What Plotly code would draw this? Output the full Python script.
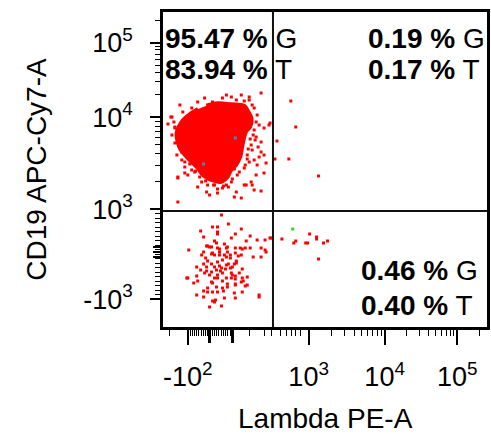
import numpy as np
import plotly.graph_objects as go

# ---------------- data (display channels: x 0-328, y 0-315) ----------------
# Quadrant gate positions (display channels)
GATE_X = 112
GATE_Y = 116

# Dense core of the CD19+ population (outline of the solid density region)
core_x = [44.7, 56.3, 69.7, 83, 87, 90.3, 89, 84.7, 82.3, 80.3, 79, 74.7, 69.7, 66.3,
          59.7, 49.7, 41.3, 36.3, 31.3, 24.7, 19, 15.7, 14.7, 17, 21.3, 28, 36.3]
core_y = [221.3, 223.7, 222.7, 221.3, 215.3, 208.7, 200.3, 195.3, 187, 177, 170.3, 162, 157, 150.3,
          145.3, 147, 152, 158.7, 163.7, 170.3, 177, 185.3, 193.7, 200.3, 207, 212.7, 218]

# Scattered events, upper-left quadrant
ul_x = [100, 70, 75, 83, 88, 36, 51, 61, 18, 9, 6, 93, 96, 98, 103, 108, 13, 16, 95, 100,
        91, 98, 103, 105, 15, 20, 23, 26, 16, 103, 95, 85, 91, 100, 93, 36, 45, 56, 61, 73,
        80, 16, 16, 23, 109, 12, 10, 33, 40, 53, 65, 70, 76, 83, 88, 86, 90, 92, 95, 91,
        80, 65, 43, 30, 21, 13, 23, 30, 46, 58, 48, 75, 90, 83, 96, 100, 93, 10, 13,
        44, 52, 62, 71, 78, 84, 87, 89, 93, 86, 38, 34, 28, 20, 56, 67, 73, 94, 97, 88]
ul_y = [234, 230, 227, 226, 227, 225, 225, 229, 222, 210, 203, 219, 212, 202, 199, 202, 199, 194, 190, 185,
        177, 170, 172, 164, 172, 167, 160, 152, 149, 154, 152, 142, 142, 136, 137, 140, 135, 134, 139, 130,
        129, 125, 150, 154, 204, 205, 192, 155, 145, 142, 142, 145, 152, 159, 165, 172, 182, 192, 205, 222,
        232, 232, 229, 219, 215, 184, 165, 157, 142, 147, 132, 135, 145, 142, 162, 175, 167, 210, 200,
        146, 142, 141, 148, 155, 162, 178, 188, 197, 168, 150, 156, 163, 175, 138, 140, 158, 187, 180, 230]

# Scattered events, upper-right quadrant
ur_x = [130, 135, 116, 114, 128, 158]
ur_y = [226, 200, 186, 168, 168, 151]

# Events, lower-left quadrant
ll_x = [60, 67, 51, 56, 39, 56, 56, 80, 42, 74, 89, 70, 53, 55, 85, 96, 104, 109, 110,
        45, 46, 48, 50, 56, 58, 58, 63, 65, 66, 27, 74, 79, 81, 84, 89, 42, 51, 100, 104, 105,
        66, 69, 40, 44, 50, 53, 58, 63, 65, 74, 77, 80, 92, 100, 69, 75, 75, 46, 56, 61,
        35, 42, 45, 50, 53, 58, 60, 65, 67, 69, 71, 73, 81, 39, 45, 50, 55, 59, 64,
        43, 48, 56, 61, 70, 71, 74, 78, 26, 35, 53, 56, 65, 70, 74, 81, 86,
        36, 32, 50, 51, 61, 66, 74, 80, 82, 46, 55, 61, 66, 74, 84, 86,
        42, 51, 56, 62, 73, 81, 35, 42, 46, 63, 74, 98, 98, 51, 54, 48, 60, 53, 25]
ll_y = [112, 103, 100, 100, 96, 95, 93, 98, 90, 93, 91, 89, 86, 84, 86, 87, 87, 89, 89,
        81, 81, 80, 80, 79, 78, 75, 83, 79, 80, 77, 79, 79, 78, 79, 79, 75, 74, 79, 77, 75,
        75, 72, 72, 69, 73, 72, 72, 72, 70, 74, 71, 72, 70, 70, 69, 66, 64, 66, 65, 67,
        60, 63, 60, 63, 60, 61, 59, 62, 63, 59, 60, 63, 58, 57, 56, 55, 57, 56, 58,
        54, 52, 52, 54, 54, 52, 51, 54, 49, 51, 49, 49, 49, 49, 48, 49, 50,
        46, 44, 45, 44, 46, 43, 43, 45, 46, 39, 40, 39, 40, 42, 41, 42,
        36, 35, 35, 36, 34, 35, 32, 30, 35, 29, 29, 32, 30, 26, 27, 20, 21, 25, 49]

# Events, lower-right quadrant
lr_x = [121, 133, 135, 145, 147, 149, 156, 156, 158, 163, 167]
lr_y = [88, 84, 86, 84, 84, 93, 90, 88, 68, 84, 86]

# Other-coloured events
blue_x = [74, 42]
blue_y = [189, 163]
green_x = [132]
green_y = [98]

# Quadrant statistics
q_ul = ["95.47", "83.94"]
q_ur = ["0.19", "0.17"]
q_lr = ["0.46", "0.40"]
q_suffix = ["G", "T"]

# Axis ticks (display channel positions and labels)
x_tick_ch = [26, 148, 224.7, 298]
x_tick_text = ["-10<sup>2</sup>", "10<sup>3</sup>", "10<sup>4</sup>", "10<sup>5</sup>"]
x_long_unlabeled = [48, 71]          # 0 and 10^2
y_tick_ch = [27.7, 117.7, 209.7, 284.3]
y_tick_text = ["-10<sup>3</sup>", "10<sup>3</sup>", "10<sup>4</sup>", "10<sup>5</sup>"]
y_long_unlabeled = [70, 75, 80]      # around 0

# ---------------- minor tick positions ----------------
logk = np.log10(np.arange(2, 10))
x_minor = ([8] + list(np.linspace(26, 71, 21)) + [88, 103, 111, 120, 126, 131, 135, 140]
           + list(148 + logk * 76.7) + list(224.7 + logk * 73.3) + [320])
y_minor = (list(np.linspace(27.7, 117.7, 21)) + list(117.7 + logk * 92)
           + list(209.7 + logk * 74.6) + [306.8])

FONT = "Liberation Sans, Arial, sans-serif"
RED = "#ff0000"
X_RANGE = [1, 328]
Y_RANGE = [0, 315]

fig = go.Figure()

fig.add_trace(go.Scatter(x=core_x, y=core_y, mode="lines", fill="toself",
                         fillcolor=RED, line=dict(color=RED, width=4, shape="spline"),
                         hoverinfo="skip", showlegend=False))

def pts(x, y, color):
    fig.add_trace(go.Scatter(x=x, y=y, mode="markers",
                             marker=dict(symbol="square", size=3, color=color, line=dict(width=0)),
                             showlegend=False))

pts(ul_x, ul_y, RED)
pts(ur_x, ur_y, RED)
pts(ll_x, ll_y, RED)
pts(lr_x, lr_y, RED)
pts(blue_x, blue_y, "#4f86b8")
pts(green_x, green_y, "#22dd22")

# empty trace to carry the overlay axes (long unlabeled ticks)
fig.add_trace(go.Scatter(x=[], y=[], xaxis="x2", yaxis="y2", showlegend=False, hoverinfo="skip"))

# quadrant gate lines
fig.add_shape(type="line", x0=GATE_X, x1=GATE_X, y0=0, y1=1, xref="x", yref="paper",
              line=dict(color="#111111", width=2))
fig.add_shape(type="line", x0=0, x1=1, y0=GATE_Y, y1=GATE_Y, xref="paper", yref="y",
              line=dict(color="#111111", width=2))

def stat(val, suf, x, y):
    fig.add_annotation(text=f"<b>{val} %</b> {suf}", x=x, y=y, xref="paper", yref="paper",
                       xanchor="left", yanchor="middle", showarrow=False,
                       font=dict(family=FONT, size=28, color="black"))

stat(q_ul[0], q_suffix[0], 0.001, 0.917)
stat(q_ul[1], q_suffix[1], 0.001, 0.816)
stat(q_ur[0], q_suffix[0], 0.627, 0.917)
stat(q_ur[1], q_suffix[1], 0.627, 0.816)
stat(q_lr[0], q_suffix[0], 0.606, 0.178)
stat(q_lr[1], q_suffix[1], 0.606, 0.067)

fig.add_annotation(text="Lambda PE-A", x=0.5, y=-0.29, xref="paper", yref="paper",
                   xanchor="center", yanchor="middle", showarrow=False,
                   font=dict(family=FONT, size=28, color="black"))
fig.add_annotation(text="CD19 APC-Cy7-A", x=-0.391, y=0.5, xref="paper", yref="paper",
                   xanchor="center", yanchor="middle", showarrow=False, textangle=-90,
                   font=dict(family=FONT, size=28, color="black"))

axis_common = dict(showgrid=False, zeroline=False, showline=True, mirror=True,
                   linecolor="black", linewidth=2.5, ticks="outside", tickcolor="black",
                   tickwidth=1.5, tickmode="array",
                   tickfont=dict(family=FONT, size=27, color="black"))

fig.update_layout(
    xaxis=dict(range=X_RANGE, tickvals=x_tick_ch, ticktext=x_tick_text, ticklen=15,
               ticklabelstandoff=9,
               minor=dict(tickvals=x_minor, ticklen=6, tickcolor="black", tickwidth=1, ticks="outside"),
               **axis_common),
    yaxis=dict(range=Y_RANGE, tickvals=y_tick_ch, ticktext=y_tick_text, ticklen=10,
               ticklabelstandoff=12,
               minor=dict(tickvals=y_minor, ticklen=5, tickcolor="black", tickwidth=1, ticks="outside"),
               **axis_common),
    xaxis2=dict(range=X_RANGE, overlaying="x", side="bottom", anchor="y2", showgrid=False,
                zeroline=False, showline=False, showticklabels=False, ticks="outside",
                tickmode="array", tickvals=x_long_unlabeled, ticklen=15, tickwidth=2.5,
                tickcolor="black"),
    yaxis2=dict(range=Y_RANGE, overlaying="y", side="left", anchor="x2", showgrid=False,
                zeroline=False, showline=False, showticklabels=False, ticks="outside",
                tickmode="array", tickvals=y_long_unlabeled, ticklen=9, tickwidth=1.5,
                tickcolor="black"),
    width=491, height=434, margin=dict(l=163, r=1, t=12, b=107),
    plot_bgcolor="white", paper_bgcolor="white",
)

fig.write_html("out.html", config={"displayModeBar": False},
               post_script="document.body.style.margin='0';document.body.style.overflow='hidden';")
